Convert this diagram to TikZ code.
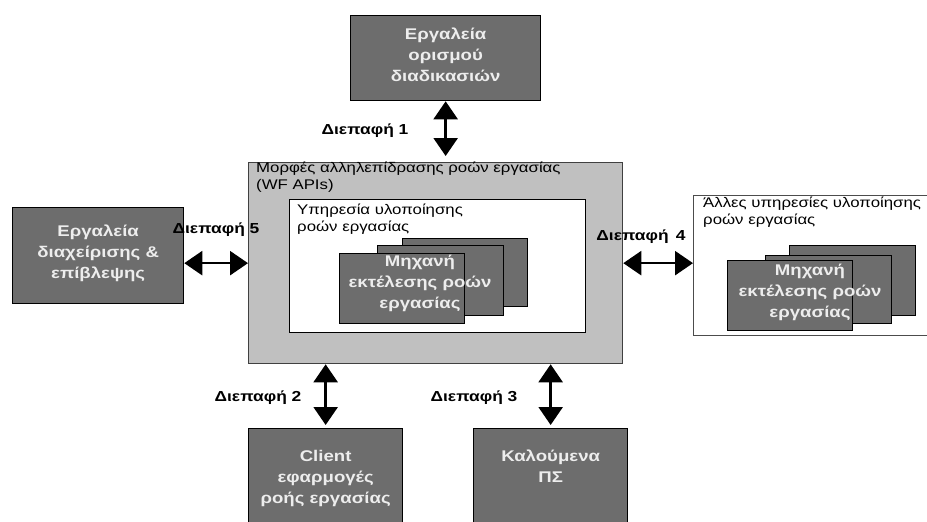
\documentclass[tikz,border=0pt]{standalone}
\usepackage{fontspec}
\setmainfont{Liberation Sans}[FakeStretch=1.2]
\usetikzlibrary{arrows.meta,positioning}
\definecolor{toolgray}{HTML}{6D6D6D}
\definecolor{apigray}{HTML}{C0C0C0}

\begin{document}
\begin{tikzpicture}[x=1pt,y=-1pt,
tool/.style={draw=black,line width=1.3pt,fill=toolgray,inner sep=0pt,anchor=north west},
tooltext/.style={text=white!93!black,font=\bfseries\fontsize{15.5}{21}\selectfont,align=center,inner sep=0pt},
frame/.style={line width=1.3pt,inner sep=0pt,anchor=north west},
caption/.style={font=\fontsize{14}{17}\selectfont,align=left,inner sep=0pt,anchor=north west},
iface/.style={font=\bfseries\fontsize{14.5}{16}\selectfont,inner sep=0pt},
dbl/.style={{Triangle[length=18pt,width=24pt]}-{Triangle[length=18pt,width=24pt]},line width=2.5pt}
]
\clip (0,0) rectangle (927,522);
\fill[white] (0,0) rectangle (927,522);

% WF APIs block
\node[frame,draw=black!75,fill=apigray,minimum width=374,minimum height=201] (api) at (248,162) {};
\node[caption] (apitext) at (256,162) {Μορφές αλληλεπίδρασης ροών εργασίας\\(WF APIs)};
\node[frame,draw=black,fill=white,minimum width=296,minimum height=133] (wfs) at (289,199) {};
\node[caption] (wfstext) at (297,204) {Υπηρεσία υλοποίησης\\ροών εργασίας};
\node[tool,minimum width=125,minimum height=68] (engc) at (402,238) {};
\node[tool,minimum width=126,minimum height=70] (engb) at (377,245) {};
\node[tool,minimum width=125,minimum height=70] (enga) at (339,253) {};
\node[tooltext] (engtext) at (420,283) {Μηχανή\\εκτέλεσης ροών\\εργασίας};

% other services
\node[frame,draw=black!70,line width=1pt,fill=white,minimum width=250,minimum height=140] (others) at (693,195) {};
\node[caption] (otherstext) at (703,197) {Άλλες υπηρεσίες υλοποίησης\\ροών εργασίας};
\node[tool,minimum width=126,minimum height=70] (oengc) at (789,245) {};
\node[tool,minimum width=126,minimum height=68] (oengb) at (765,255) {};
\node[tool,minimum width=125,minimum height=70] (oenga) at (727,260) {};
\node[tooltext] (oengtext) at (810,292) {Μηχανή\\εκτέλεσης ροών\\εργασίας};

% outer tools
\node[tool,minimum width=190,minimum height=85] (deftools) at (350,15) {};
\node[tooltext] (deftext) at ([yshift=3pt]deftools.center) {Εργαλεία\\ορισμού\\διαδικασιών};
\node[tool,minimum width=171,minimum height=96] (mgmt) at (12,207) {};
\node[tooltext] (mgmttext) at ([yshift=2pt]mgmt.center) {Εργαλεία\\διαχείρισης \&\\επίβλεψης};
\node[tool,minimum width=154,minimum height=120] (client) at (248,428) {};
\node[tooltext,below=22pt of client.north] (clienttext) {Client\\εφαρμογές\\ροής εργασίας};
\node[tool,minimum width=154,minimum height=120] (called) at (473,428) {};
\node[tooltext,below=22pt of called.north] (calledtext) {Καλούμενα\\ΠΣ};

% interfaces
\draw[dbl] (deftools.south) -- ([yshift=6pt]deftools.south |- api.north);
\draw[dbl] (api.west) -- (api.west -| mgmt.east);
\draw[dbl] (api.east) -- (api.east -| others.west);
\draw[dbl] (api.south -| client.north) -- ([yshift=3pt]client.north);
\draw[dbl] (api.south -| called.north) -- ([yshift=3pt]called.north);

\node[iface] (if1) at (365,131) {Διεπαφή 1};
\node[iface] (if2) at (258,398) {Διεπαφή 2};
\node[iface] (if3) at (474,398) {Διεπαφή 3};
\node[iface] (if4) at (641,237) {Διεπαφή \,4};
\node[iface] (if5) at (216,230) {Διεπαφή 5};
\end{tikzpicture}
\end{document}
